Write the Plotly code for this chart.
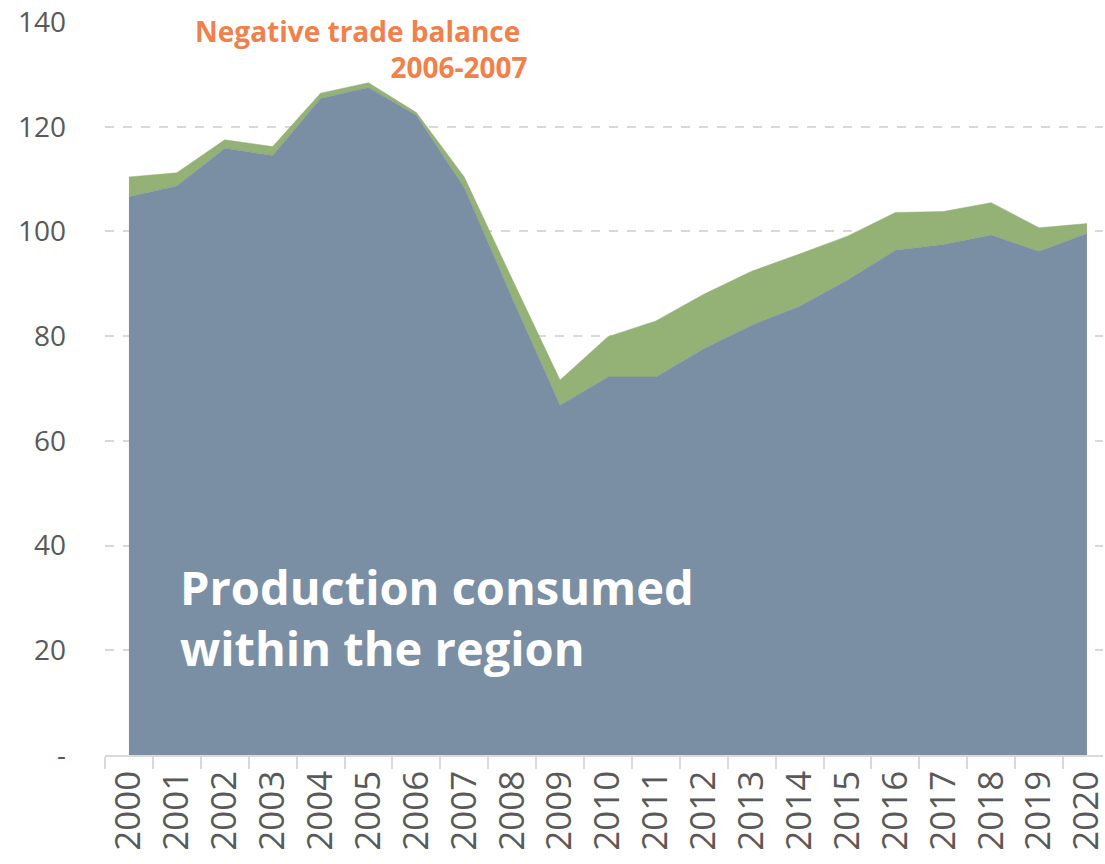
import plotly.graph_objects as go

years = [str(y) for y in range(2000, 2021)]
# Production consumed within the region
consumed = [106.6, 108.7, 115.9, 114.5, 125.4, 127.5, 122.2, 108.4, 87.3, 66.8,
            72.2, 72.2, 77.6, 82.1, 85.7, 90.7, 96.4, 97.5, 99.3, 96.2, 99.6]
# Additional (green) layer stacked on top
extra = [3.8, 2.5, 1.6, 1.7, 1.0, 0.9, 0.5, 2.0, 3.6, 4.8,
         7.7, 10.7, 10.4, 10.3, 10.0, 8.4, 7.2, 6.3, 6.2, 4.5, 1.9]

y_tickvals = [0, 20, 40, 60, 80, 100, 120, 140]
y_ticktext = ["-", "20", "40", "60", "80", "100", "120", "140"]

BLUE = "#7A8FA3"
GREEN = "#94B176"
ORANGE = "#F2804A"
TICK_FONT = "Open Sans"

fig = go.Figure()
fig.add_trace(go.Scatter(
    x=years, y=consumed, stackgroup="s", mode="lines",
    line=dict(color=BLUE, width=0.5), fillcolor=BLUE, name="Production consumed",
))
fig.add_trace(go.Scatter(
    x=years, y=extra, stackgroup="s", mode="lines",
    line=dict(color=GREEN, width=0.5), fillcolor=GREEN, name="Other",
))

fig.update_layout(
    width=1105, height=864,
    margin=dict(l=105, r=2, t=22, b=109),
    plot_bgcolor="white", paper_bgcolor="white",
    showlegend=False,
    xaxis=dict(
        type="category", range=[-0.5, 20.335], automargin=False,
        showgrid=False, showline=True, linecolor="#D9D9D9", linewidth=1.5,
        ticks="outside", tickson="boundaries", ticklen=12, tickcolor="#D9D9D9",
        tickwidth=1.5, tickangle=-90,
        tickfont=dict(family=TICK_FONT, size=35, color="#595959"),
    ),
    yaxis=dict(
        range=[0, 140], tickvals=y_tickvals, ticktext=y_ticktext, automargin=False,
        showgrid=True, gridcolor="#D9D9D9", griddash="dash", gridwidth=1.5,
        zeroline=False, showline=False, ticks="",
        ticklabelstandoff=38,
        tickfont=dict(family=TICK_FONT, size=28, color="#595959"),
    ),
)

fig.add_annotation(
    xref="paper", yref="paper", x=0.4259, y=0.9625, xanchor="right", yanchor="middle",
    text="<b>Negative trade balance&nbsp;<br>2006-2007</b>", showarrow=False, align="right",
    font=dict(family="Open Sans", size=28, color=ORANGE),
)
fig.add_annotation(
    xref="paper", yref="paper", x=0.0731, y=0.1876, xanchor="left", yanchor="middle",
    text="<b>Production consumed<br>within the region</b>", showarrow=False, align="left",
    font=dict(family="Open Sans", size=47, color="white"),
)

fig.write_html(
    "out.html",
    config={"displayModeBar": False},
    post_script="document.body.style.margin='0';document.body.style.overflow='hidden';",
)
